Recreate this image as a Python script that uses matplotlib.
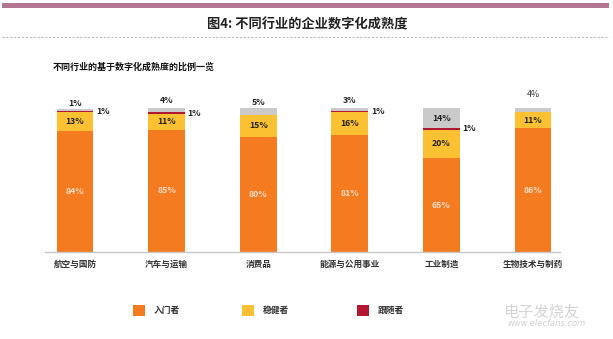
import numpy as np
import matplotlib
matplotlib.use("Agg")
import matplotlib.pyplot as plt
from matplotlib.patches import Rectangle

plt.rcParams['font.family'] = ['Noto Sans CJK SC', 'DejaVu Sans']

# data
cats = ['航空与国防', '汽车与运输', '消费品', '能源与公用事业', '工业制造', '生物技术与制药']
beginner = [84, 85, 80, 81, 65, 86]   # 入门者
steady = [13, 11, 15, 16, 20, 11]     # 稳健者
follower = [1, 1, 0, 1, 1, 0]         # 跟随者
leader = [1, 4, 5, 3, 14, 4]          # grey top part
legend_names = ['入门者', '稳健者', '跟随者']

c_or = '#F47B20'
c_ye = '#FCC133'
c_re = '#B3172F'
c_gr = '#CACACA'

W, H = 613, 339
fig = plt.figure(figsize=(W/100, H/100), dpi=100)
fig.patch.set_facecolor('white')

def fx(px):
    return px / W

def fy(py):
    return 1 - py / H

# header: pink band, title, dotted rule, subtitle
fig.add_artist(Rectangle((fx(2), fy(7.5)), fx(607), 4.5/H, transform=fig.transFigure,
                         color='#B27592', lw=0))
fig.text(fx(307), fy(24), '图4: 不同行业的企业数字化成熟度', ha='center', va='center',
         fontsize=9.5, fontweight='bold', color='#222222')
fig.add_artist(plt.Line2D([fx(2), fx(609)], [fy(37), fy(37)], transform=fig.transFigure,
                          color='#BBBBBB', lw=0.8, ls=(0, (2, 1.5))))
fig.text(fx(53), fy(67), '不同行业的基于数字化成熟度的比例一览', ha='left', va='center',
         fontsize=6.5, fontweight='bold', color='#111111')

# bar area
ax = fig.add_axes([fx(45), fy(252), fx(515), 144/H])
x = np.arange(len(cats))
bw = 0.40
b1 = np.array(beginner)
b2 = b1 + np.array(steady)
b3 = b2 + np.array(follower)
ax.bar(x, beginner, bw, color=c_or, lw=0)
ax.bar(x, steady, bw, bottom=b1, color=c_ye, lw=0)
ax.bar(x, follower, bw, bottom=b2, color=c_re, lw=0)
ax.bar(x, leader, bw, bottom=b3, color=c_gr, lw=0)

ax.set_xlim(-0.3275, 5.295)
ax.set_ylim(0, 100)
for s in ['top', 'right', 'left']:
    ax.spines[s].set_visible(False)
ax.spines['bottom'].set_color('#C8C8C8')
ax.spines['bottom'].set_linewidth(1)
ax.set_yticks([])
ax.set_xticks([])

# category names, all on one baseline
for i, c in enumerate(cats):
    ax.text(i, -15/144*100, c, ha='center', va='baseline', fontsize=6.2, fontweight='bold',
            color='#333333', clip_on=False)

lab = dict(ha='center', va='center', fontsize=6.3, fontweight='bold', clip_on=False)
for i in x:
    ax.text(i, beginner[i]/2, f'{beginner[i]}%', color='#FADCC8', **lab)
    ax.text(i, b1[i] + steady[i]/2, f'{steady[i]}%', color='#222222', **lab)
    if follower[i]:
        ax.text(i + bw/2 + 0.03, b2[i] + follower[i]/2, f'{follower[i]}%', color='#222222',
                ha='left', va='center', fontsize=6.3, fontweight='bold', clip_on=False)
    top = b3[i] + leader[i]
    if leader[i] >= 10:
        ax.text(i, b3[i] + leader[i]/2, f'{leader[i]}%', color='#222222', **lab)
    elif i == len(cats) - 1:
        ax.text(i, top + 8.5, f'{leader[i]}%', color='#333333', ha='center', va='center',
                fontsize=6.3, clip_on=False)
    else:
        ax.text(i, top + 4, f'{leader[i]}%', color='#222222', **lab)

# legend
for px, name, c in zip([133, 242, 357], legend_names, [c_or, c_ye, c_re]):
    fig.add_artist(Rectangle((fx(px), fy(316)), fx(12), 11/H, transform=fig.transFigure,
                             color=c, lw=0))
    fig.text(fx(px + 21), fy(310.5), name, ha='left', va='center', fontsize=6.3,
             fontweight='bold', color='#333333')

# watermark
fig.text(fx(503), fy(312), '电子发烧友', ha='left', va='center', fontsize=11,
         style='italic', color='#D4D4D4')
fig.text(fx(507), fy(324), 'www.elecfans.com', ha='left', va='center', fontsize=6,
         style='italic', color='#D0D0D0', family=['DejaVu Sans'])

fig.savefig('out.png', dpi=100)
